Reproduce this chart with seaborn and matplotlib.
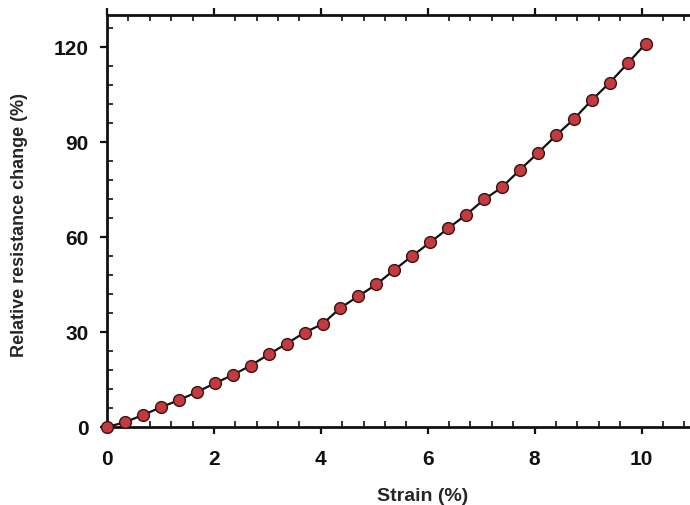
import numpy as np
import pandas as pd
import matplotlib
matplotlib.use("Agg")
import matplotlib.pyplot as plt
from matplotlib.ticker import MultipleLocator
import seaborn as sns

strain = [0.0, 0.336, 0.672, 1.008, 1.344, 1.68, 2.016, 2.352, 2.688, 3.024,
          3.36, 3.696, 4.032, 4.368, 4.704, 5.04, 5.376, 5.712, 6.048, 6.384,
          6.72, 7.056, 7.392, 7.728, 8.064, 8.4, 8.736, 9.072, 9.408, 9.744, 10.08]
resistance = [0.0, 1.5, 3.8, 6.2, 8.5, 11.0, 13.8, 16.4, 19.4, 22.9,
              26.3, 29.8, 32.5, 37.6, 41.3, 45.0, 49.6, 54.0, 58.3, 62.7,
              67.0, 71.8, 75.7, 81.2, 86.5, 92.0, 97.2, 103.2, 108.7, 114.8, 121.0]
x_ticks = [0, 2, 4, 6, 8, 10]
y_ticks = [0, 30, 60, 90, 120]

sns.set_style("ticks")
plt.rcParams['font.family'] = ['Liberation Sans', 'DejaVu Sans']
plt.rcParams['font.weight'] = 'bold'

df = pd.DataFrame({"Strain": strain, "Resistance": resistance})

fig = plt.figure(figsize=(6.9, 5.06), dpi=100)
ax = fig.add_axes([107/690, 78/506, 588/690, 412/506])

sns.lineplot(data=df, x="Strain", y="Resistance", ax=ax, color="#111111",
             linewidth=1.6, marker="o", markersize=8.5,
             markerfacecolor="#c33b3e", markeredgecolor="#3a1212",
             markeredgewidth=1.0, clip_on=False, zorder=5)

ax.set_xlim(0, 11)
ax.set_ylim(0, 130)
ax.set_xticks(x_ticks)
ax.set_yticks(y_ticks)
ax.xaxis.set_minor_locator(MultipleLocator(0.4))
ax.yaxis.set_minor_locator(MultipleLocator(6))

for s in ["left", "bottom", "top"]:
    ax.spines[s].set_visible(True)
    ax.spines[s].set_linewidth(2.0)
    ax.spines[s].set_color("#111111")
ax.spines["right"].set_visible(False)

ax.tick_params(which="major", direction="out", length=5, width=1.6,
               top=True, labeltop=False, labelsize=15, colors="#111111")
ax.tick_params(axis="x", which="major", pad=11)
ax.tick_params(axis="y", which="major", pad=8)
ax.tick_params(which="minor", direction="in", length=4, width=1.2,
               top=True, colors="#111111")
for lab in ax.get_xticklabels() + ax.get_yticklabels():
    lab.set_fontweight("bold")

ax.set_xlabel("Strain (%)", fontsize=14, fontweight="bold")
ax.set_ylabel("Relative resistance change (%)", fontsize=13, fontweight="bold")
ax.xaxis.set_label_coords(0.537, -0.1456)
ax.yaxis.set_label_coords(-0.134, 0.493)

fig.savefig("out.png", dpi=100, facecolor="white")
